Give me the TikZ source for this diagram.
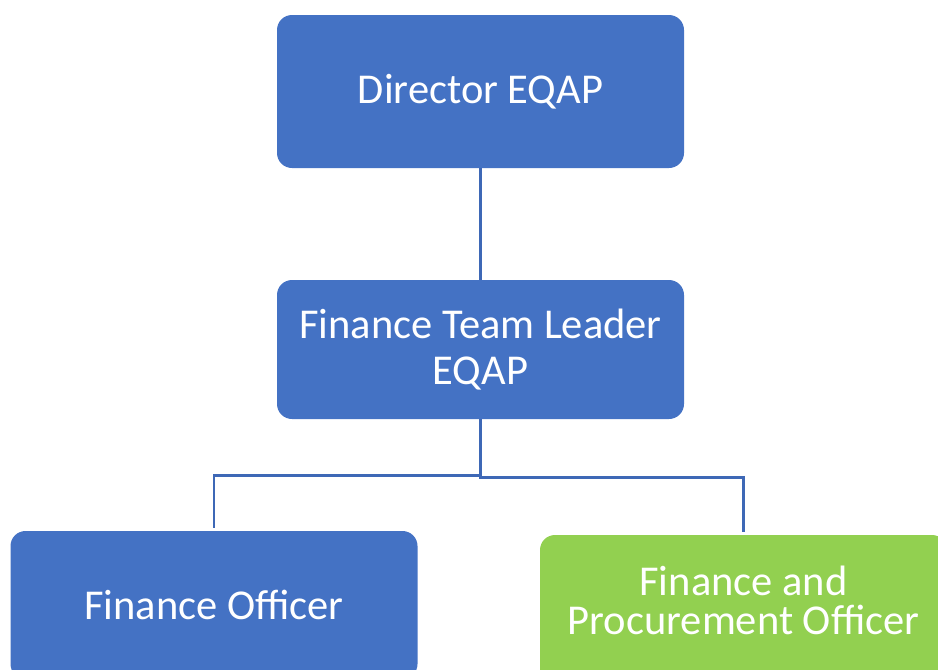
\documentclass[tikz,border=0pt]{standalone}
\usepackage{fontspec}
\setmainfont{Carlito}
\definecolor{boxblue}{HTML}{4472C4}
\definecolor{boxgreen}{HTML}{92D050}
\definecolor{linkblue}{HTML}{3E68B6}
\begin{document}
\begin{tikzpicture}[x=1pt,y=-1pt,
  orgbox/.style={rounded corners=15pt, minimum width=407pt, inner sep=0pt,
    text=white, align=center, font=\fontsize{42.5}{46}\selectfont},
  bluebox/.style={orgbox, fill=boxblue},
  greenbox/.style={orgbox, fill=boxgreen},
  link/.style={draw=linkblue, line width=2.4pt}]
\useasboundingbox (0,0) rectangle (938,670);
\clip (0,0) rectangle (938,670);
% boxes
\node[bluebox, minimum height=153pt] (dir) at (480.5,91.5) {Director EQAP};
\node[bluebox, minimum height=139pt] (tl) at (480.5,349.5) {Finance Team Leader\\EQAP};
\node[bluebox, minimum height=148pt] (fo) at (214,605) {Finance Officer};
\node[greenbox, minimum height=148pt, text depth=18pt,
  font=\fontsize{42.5}{39}\selectfont] (fp) at (743.5,609) {Finance and\\Procurement Officer};
% connectors
\coordinate (hl) at (480.5,475.5);
\coordinate (hr) at (480.5,477.5);
\draw[link] (dir.south) -- (tl.north);
\draw[link] (tl.south) -- (hl) -| ([yshift=3pt]fo.north);
\draw[link] (tl.south) -- (hr) -| ([yshift=3pt]fp.north);
\end{tikzpicture}
\end{document}
